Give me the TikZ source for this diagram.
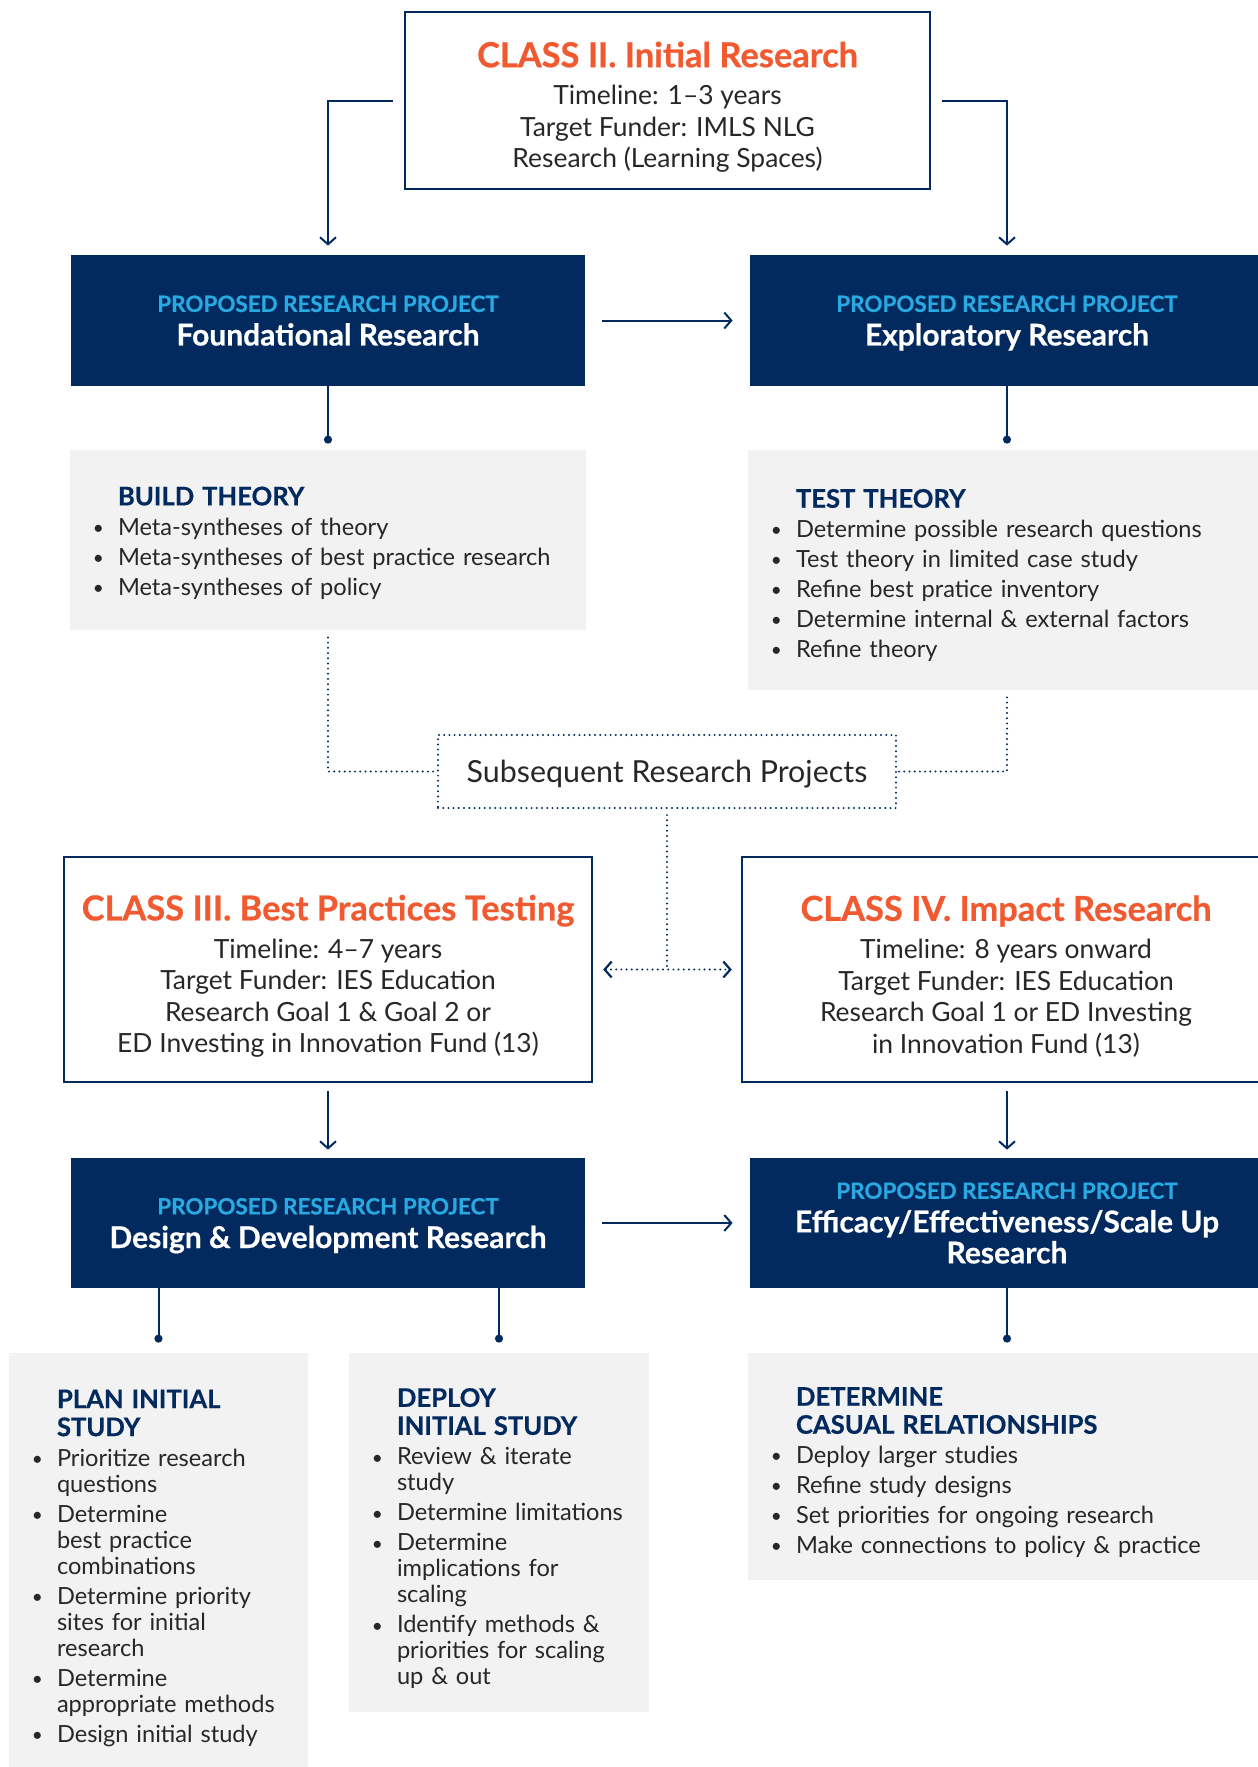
\documentclass[tikz,border=0pt]{standalone}
\usepackage{fontspec}
\setmainfont{Lato}
\newfontfamily\heavyfont{Lato}[FakeBold=0.6]
\usetikzlibrary{arrows.meta}

\definecolor{navy}{RGB}{2,42,94}
\definecolor{flame}{RGB}{241,90,49}
\definecolor{sky}{RGB}{41,169,225}
\definecolor{panelgray}{RGB}{242,242,242}
\definecolor{ink}{RGB}{40,38,38}

\setlength{\parindent}{0pt}
\newcommand{\classbody}{\fontsize{13.2pt}{15.8pt}\selectfont}
\newcommand{\classtitle}{\fontsize{17.2pt}{20pt}\selectfont\heavyfont\bfseries\color{flame}}
\newcommand{\projname}{\fontsize{15pt}{15.5pt}\selectfont\heavyfont\bfseries}
\newcommand{\prpfont}{\fontsize{11.2pt}{13pt}\selectfont\heavyfont\bfseries\color{sky}}
\newcommand{\panelhead}{\fontsize{12.8pt}{14pt}\selectfont\heavyfont\bfseries\color{navy}}
\newcommand{\panelbody}{\fontsize{11.8pt}{13pt}\selectfont\hyphenpenalty=10000}
\newcommand{\bul}{\leavevmode\llap{\raisebox{0.4pt}{\fontsize{9.5pt}{9.5pt}\selectfont\textbullet}\hspace{7pt}}}
\newcommand{\nodepth}[1]{\raisebox{0pt}[\height][0pt]{#1}}
\newcommand{\toppad}{\rule{0pt}{19.5pt}}

\begin{document}
\begin{tikzpicture}[x=0.5pt,y=-0.5pt,
    classbox/.style={draw=navy, line width=1.2pt, minimum width=264pt, minimum height=112.5pt,
      align=center, text=ink, font=\classbody},
    projbox/.style={fill=navy, minimum width=257pt, minimum height=65.5pt,
      align=center, text=white, font=\projname},
    panel/.style={fill=panelgray, minimum width=258pt, inner sep=0pt},
    paneltext/.style={anchor=west, inner sep=0pt, text width=#1, align=left,
      text=ink, font=\panelbody},
    conn/.style={navy, line width=1pt},
    arr/.style={conn, -{Straight Barb[length=3.5pt,width=8pt]}},
    dotend/.style={conn, -{Circle[length=4pt]}},
    dotline/.style={navy, line width=1.1pt, dash pattern=on 0pt off 2.6pt, line cap=round}]

  \clip (0,0) rectangle (1258,1767);

  % 1. class II and the two first projects
  \node[classbox, minimum width=262.5pt, minimum height=88.5pt] (class2) at (667.5,100.5)
    {\toppad{\classtitle CLASS II. Initial Research}\\[3pt]
     Timeline: 1--3 years\\ Target Funder: IMLS NLG\\ Research (Learning Spaces)};
  \node[projbox] (found) at (328,320.5)
    {{\prpfont PROPOSED RESEARCH PROJECT}\\[1.3pt]\nodepth{Foundational Research}};
  \node[projbox] (explor) at (1007,320.5)
    {{\prpfont PROPOSED RESEARCH PROJECT}\\[1.3pt]\nodepth{Exploratory Research}};

  % 2. theory panels
  \node[panel, minimum height=90pt] (build) at (328,540) {};
  \node[paneltext=240pt] (buildtxt) at ([xshift=24pt,yshift=-1.5pt]build.west)
    {{\panelhead BUILD THEORY\par}\vspace{2pt}
     \bul Meta-syntheses of theory\\[2pt]
     \bul Meta-syntheses of best practice research\\[2pt]
     \bul Meta-syntheses of policy};
  \node[panel, minimum height=120pt] (test) at (1006,570) {};
  \node[paneltext=240pt] (testtxt) at ([xshift=24pt,yshift=-2.7pt]test.west)
    {{\panelhead TEST THEORY\par}\vspace{2pt}
     \bul Determine possible research questions\\[2pt]
     \bul Test theory in limited case study\\[2pt]
     \bul Refine best pratice inventory\\[2pt]
     \bul Determine internal \& external factors\\[2pt]
     \bul Refine theory};

  % 3. subsequent projects
  \node[dotline, draw, minimum width=229pt, minimum height=36.5pt, text=ink,
    font=\fontsize{15.2pt}{18pt}\selectfont] (subs) at (667,771.5)
    {\nodepth{Subsequent Research Projects}};

  % 4. class III and IV
  \node[classbox] (class3) at (328,969.5)
    {\toppad{\classtitle CLASS III. Best Practices Testing}\\[3pt]
     Timeline: 4--7 years\\ Target Funder: IES Education\\
     Research Goal 1 \& Goal 2 or\\ ED Investing in Innovation Fund (13)};
  \node[classbox] (class4) at (1006,969.5)
    {\toppad{\classtitle CLASS IV. Impact Research}\\[3pt]
     Timeline: 8 years onward\\ Target Funder: IES Education\\
     Research Goal 1 or ED Investing\\ in Innovation Fund (13)};

  % 5. last projects
  \node[projbox, minimum height=65pt] (design) at (328,1223)
    {{\prpfont PROPOSED RESEARCH PROJECT}\\[1.3pt]\nodepth{Design \& Development Research}};
  \node[projbox, minimum height=65pt] (effic) at (1007,1223)
    {{\prpfont PROPOSED RESEARCH PROJECT}\\[1.3pt]Efficacy/Effectiveness/Scale Up\\Research};

  % 6. study panels
  \node[panel, minimum width=149.5pt, minimum height=213pt] (plan) at (158.5,1566) {};
  \node[paneltext=140pt] (plantxt) at ([xshift=24pt,yshift=-1pt]plan.west)
    {{\panelhead PLAN INITIAL\\STUDY\par}\vspace{2pt}
     \bul Prioritize research\\ questions\\[2pt]
     \bul Determine\\ best practice\\ combinations\\[2pt]
     \bul Determine priority\\ sites for initial\\ research\\[2pt]
     \bul Determine\\ appropriate methods\\[2pt]
     \bul Design initial study};
  \node[panel, minimum width=150pt, minimum height=179.5pt] (deploy) at (499,1532.5) {};
  \node[paneltext=140pt] (deploytxt) at ([xshift=24pt,yshift=-3pt]deploy.west)
    {{\panelhead DEPLOY\\INITIAL STUDY\par}\vspace{2pt}
     \bul Review \& iterate\\ study\\[2pt]
     \bul Determine limitations\\[2pt]
     \bul Determine\\ implications for\\ scaling\\[2pt]
     \bul Identify methods \&\\ priorities for scaling\\ up \& out};
  \node[panel, minimum height=113.5pt] (determ) at (1006,1466.5) {};
  \node[paneltext=240pt] (determtxt) at ([xshift=24pt,yshift=-3pt]determ.west)
    {{\panelhead DETERMINE\\CASUAL RELATIONSHIPS\par}\vspace{2pt}
     \bul Deploy larger studies\\[2pt]
     \bul Refine study designs\\[2pt]
     \bul Set priorities for ongoing research\\[2pt]
     \bul Make connections to policy \& practice};

  % 7. connectors
  \draw[arr, shorten <=5.5pt, shorten >=4.5pt] (class2.west) -| (found.north);
  \draw[arr, shorten <=5.5pt, shorten >=4.5pt] (class2.east) -| (explor.north);
  \draw[arr, shorten <=8.5pt, shorten >=8.5pt] (found.east) -- (explor.west);
  \draw[dotend, shorten >=3pt] (found.south) -- (build.north);
  \draw[dotend, shorten >=3pt] (explor.south) -- (explor.south |- test.north);
  \draw[dotline, shorten <=3.5pt] (build.south) |- (subs.west);
  \draw[dotline, shorten <=3.5pt] (explor.south |- test.south) |- (subs.east);
  \draw[dotline, shorten <=3pt] (subs.south) -- (subs.south |- class3.east);
  \draw[dotline, {Straight Barb[length=3.5pt,width=8pt]}-{Straight Barb[length=3.5pt,width=8pt]},
    shorten <=5pt, shorten >=4.5pt] (class3.east) -- (class4.west);
  \draw[arr, shorten <=4pt, shorten >=4pt] (class3.south) -- (design.north);
  \draw[arr, shorten <=4pt, shorten >=4pt] (class4.south -| effic.north) -- (effic.north);
  \draw[arr, shorten <=8.5pt, shorten >=8.5pt] (design.east) -- (effic.west);
  \draw[dotend, shorten >=5pt] (design.south -| plan.north) -- (plan.north);
  \draw[dotend, shorten >=5pt] (design.south -| deploy.north) -- (deploy.north);
  \draw[dotend, shorten >=5pt] (effic.south) -- (effic.south |- determ.north);
\end{tikzpicture}
\end{document}
